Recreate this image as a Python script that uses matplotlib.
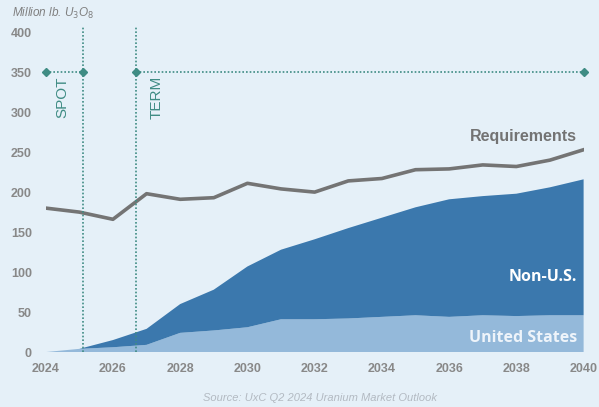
import matplotlib.pyplot as plt
import numpy as np

years = list(range(2024, 2041))
us = [0, 4, 6, 9, 24, 27, 31, 41, 41, 42, 44, 46, 44, 46, 45, 46, 46]
non_us = [0, 0, 9, 20, 36, 51, 76, 87, 100, 113, 124, 135, 147, 149, 153, 160, 170]
requirements = [180, 175, 166, 198, 191, 193, 211, 204, 200, 214, 217, 228, 229, 234, 232, 240, 253]
spot_year = 2025.1
term_year = 2026.7
yticks = [0, 50, 100, 150, 200, 250, 300, 350, 400]
xticks = list(range(2024, 2041, 2))

bg = '#e5f0f8'
teal = '#3f8c84'
grey = '#777777'

plt.rcParams['font.family'] = ['Liberation Sans Narrow', 'Liberation Sans', 'DejaVu Sans']

fig = plt.figure(figsize=(5.99, 4.07), dpi=100, facecolor=bg)
ax = fig.add_axes([0.0763, 0.135, 0.898, 0.786])
ax.set_facecolor(bg)

ax.stackplot(years, us, non_us, colors=['#94b9da', '#3b78ad'], linewidth=0)
ax.plot(years, requirements, color='#747474', lw=2.6, solid_joinstyle='round')

# spot / term markers
for yr in (spot_year, term_year):
    ax.plot([yr, yr], [0, 408], ls=(0, (1, 1.2)), color=teal, lw=1.2, clip_on=False)
ax.plot([2024, spot_year], [350, 350], ls=(0, (1, 1.2)), color=teal, lw=1.2,
        marker='D', markersize=4.5, clip_on=False)
ax.plot([term_year, 2040], [350, 350], ls=(0, (1, 1.2)), color=teal, lw=1.2,
        marker='D', markersize=4.5, clip_on=False)
ax.text(spot_year - 0.6, 318, 'SPOT', rotation=90, color=teal, fontsize=11,
        family=['Liberation Sans', 'DejaVu Sans'], ha='center', va='center')
ax.text(term_year + 0.6, 318, 'TERM', rotation=90, color=teal, fontsize=11,
        family=['Liberation Sans', 'DejaVu Sans'], ha='center', va='center')

ax.text(2039.8, 269, 'Requirements', color='#737373', fontsize=11.5, fontweight='bold',
        family=['Liberation Sans', 'DejaVu Sans'], ha='right', va='center')
ax.text(2039.8, 94, 'Non-U.S.', color='white', fontsize=11.5, fontweight='bold',
        family=['Open Sans', 'DejaVu Sans'], ha='right', va='center')
ax.text(2039.8, 17, 'United States', color='#eef4fa', fontsize=11.5, fontweight='bold',
        family=['Open Sans', 'DejaVu Sans'], ha='right', va='center')

ax.set_xlim(2024, 2040)
ax.set_ylim(0, 400)
ax.set_xticks(xticks)
ax.set_yticks(yticks)
ax.tick_params(length=0, colors='#888888', labelsize=9)
ax.tick_params(axis='y', pad=10)
ax.tick_params(axis='x', pad=8)
for lab in ax.get_xticklabels() + ax.get_yticklabels():
    lab.set_fontweight('bold')
for s in ax.spines.values():
    s.set_visible(False)

fig.text(0.02, 0.968, r'Million lb. U$_3$O$_8$', style='italic', color='#7f7f7f',
         fontsize=8.5, family=['Liberation Sans', 'DejaVu Sans'], va='center')
fig.text(0.535, 0.022, 'Source: UxC Q2 2024 Uranium Market Outlook', style='italic',
         color='#b3bac2', fontsize=8, family=['Liberation Sans', 'DejaVu Sans'],
         ha='center', va='center')

fig.savefig('out.png', dpi=100, facecolor=bg)
